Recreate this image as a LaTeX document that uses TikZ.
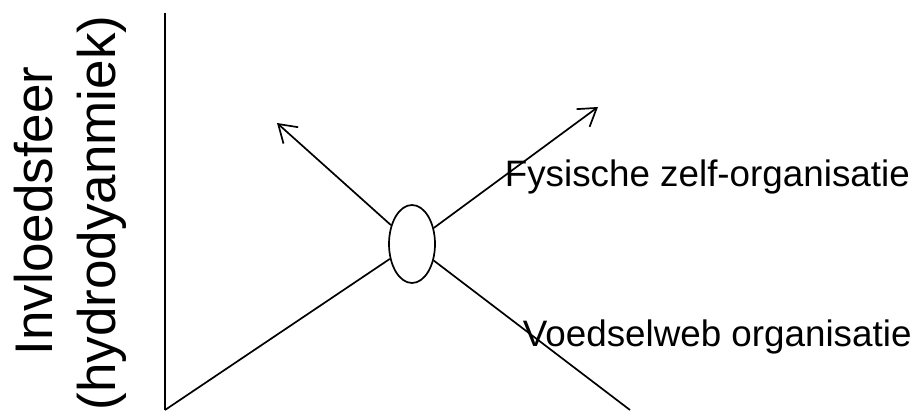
\documentclass[tikz,border=0pt]{standalone}
\usepackage{fontspec}
\setmainfont{Liberation Sans}
\usetikzlibrary{arrows.meta,shapes.geometric}
\begin{document}
\begin{tikzpicture}[x=1pt, y=1pt, line width=1.7pt,
    barb/.style={-{Straight Barb[length=17pt, width=22pt, line width=1.7pt]}}]
    \useasboundingbox (0,0) rectangle (918,412);
    \coordinate (o) at (165,2);
    \coordinate (top) at (165,399);
    \coordinate (t1) at (598,305);
    \coordinate (t2) at (277,289);
    \coordinate (b2) at (630,2);
    \node[draw, ellipse, minimum width=46pt, minimum height=78pt, inner sep=0pt] (e) at (412,168) {};
    \draw (top) -- (o);
    \draw (o) -- (e);
    \draw[barb] (e) -- (t1);
    \draw[barb] (e) -- (t2);
    \draw (e) -- (b2);
    \node at (52,201) [anchor=base, rotate=90] {\fontsize{53}{63}\selectfont Invloedsfeer};
    \node at (115,199) [anchor=base, rotate=90] {\fontsize{53}{63}\selectfont (hydrodyanmiek)};
    \node at (504,225) [anchor=base west, inner sep=0pt] {\fontsize{36.8}{44}\selectfont Fysische zelf-organisatie};
    \node at (522,65) [anchor=base west, inner sep=0pt] {\fontsize{36.8}{44}\selectfont Voedselweb organisatie};
\end{tikzpicture}
\end{document}
